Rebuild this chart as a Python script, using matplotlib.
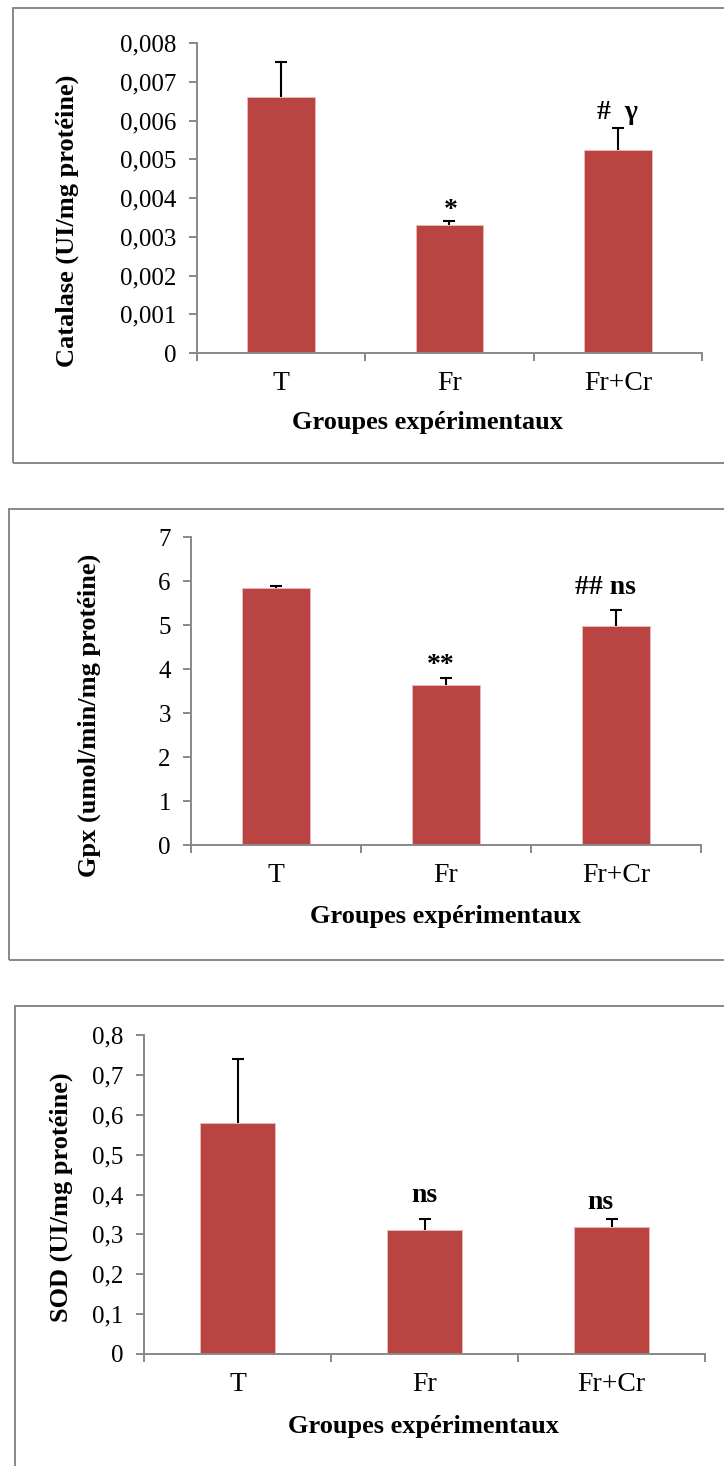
import matplotlib
matplotlib.use('Agg')
import numpy as np
import matplotlib.pyplot as plt
from matplotlib.patches import Rectangle

groups = ["T", "Fr", "Fr+Cr"]

cat_mean = [0.0066, 0.0033, 0.00525]
cat_err = [0.0009, 0.0001, 0.00055]
cat_marks = ["", "*", "#  \u03b3"]

gpx_mean = [5.83, 3.64, 4.98]
gpx_err = [0.05, 0.15, 0.37]
gpx_marks = ["", "**", "## ns"]

sod_mean = [0.58, 0.31, 0.318]
sod_err = [0.16, 0.029, 0.02]
sod_marks = ["", "ns", "ns"]

# where the significance marks sit (baseline, x shift in category units)
cat_mark_pos = [None, (0.0035, 0.01), (0.00605, 0.0)]
gpx_mark_pos = [None, (3.94, -0.03), (5.71, -0.06)]
sod_mark_pos = [None, (0.381, 0.0), (0.364, -0.06)]

W, H = 724, 1466
BAR = "#b94442"
GREY = "#888888"
plt.rcParams['font.family'] = ['Liberation Serif', 'DejaVu Serif']

fig = plt.figure(figsize=(W / 100, H / 100), dpi=100)


def px_box(x0, y0, x1, y1):
    return [x0 / W, 1 - y1 / H, (x1 - x0) / W, (y1 - y0) / H]


def frame(x0, y0, x1, y1):
    fig.patches.append(Rectangle((x0 / W, 1 - y1 / H), (x1 - x0) / W, (y1 - y0) / H,
                                 transform=fig.transFigure, fill=False,
                                 edgecolor=GREY, lw=1.4))


def panel(box, means, errs, marks, mark_pos, ymax, step, fmt, ylabel, ylab_xy, xlab_xy):
    ax = fig.add_axes(px_box(*box))
    x = np.arange(len(groups))
    ax.bar(x, means, width=0.4, color=BAR, edgecolor="#eab8b6", lw=0.7, zorder=2)
    _, caps, _ = ax.errorbar(x, means, yerr=[np.zeros(3), errs], fmt="none", ecolor="black",
                             elinewidth=1.5, capsize=4.5, capthick=1.5, zorder=3)
    caps[0].set_visible(False)  # only the upper cap, like the original
    for xi, m, pos in zip(x, marks, mark_pos):
        if m:
            ax.text(xi + pos[1], pos[0], m, ha="center", va="baseline", fontsize=20,
                    fontweight="bold")
    ax.set_xlim(-0.5, 2.5)
    ax.set_ylim(0, ymax)
    ticks = np.arange(0, ymax + step / 2, step)
    ax.set_yticks(ticks)
    ax.set_yticklabels([fmt(t) for t in ticks], fontsize=18)
    ax.set_xticks(x)
    ax.set_xticklabels(groups, fontsize=20)
    ax.set_xticks([-0.5, 0.5, 1.5, 2.5], minor=True)
    ax.tick_params(axis="x", which="major", length=0, pad=13)
    ax.tick_params(axis="x", which="minor", length=6, color=GREY, width=1.4, direction="out")
    ax.tick_params(axis="y", length=5.5, color=GREY, width=1.4, direction="out", pad=9)
    for s in ["top", "right"]:
        ax.spines[s].set_visible(False)
    for s in ["left", "bottom"]:
        ax.spines[s].set_color(GREY)
        ax.spines[s].set_linewidth(1.4)
    hgt = box[3] - box[1]
    ax.set_xlabel("Groupes expérimentaux", fontsize=19, fontweight="bold", va="center")
    ax.xaxis.set_label_coords((xlab_xy[0] - box[0]) / (box[2] - box[0]),
                              (box[3] - xlab_xy[1]) / hgt)
    ax.set_ylabel(ylabel, fontsize=19, fontweight="bold", va="center")
    ax.yaxis.set_label_coords((ylab_xy[0] - box[0]) / (box[2] - box[0]),
                              (box[3] - ylab_xy[1]) / hgt)
    return ax


frame(13, 8, 726, 463)
panel((197, 43, 702, 353), cat_mean, cat_err, cat_marks, cat_mark_pos, 0.008, 0.001,
      lambda t: "0" if t == 0 else f"{t:.3f}".replace(".", ","),
      "Catalase (UI/mg protéine)", (67, 221), (427, 423))

frame(9, 509, 726, 960)
panel((191, 537, 701, 845), gpx_mean, gpx_err, gpx_marks, gpx_mark_pos, 7, 1,
      lambda t: f"{t:.0f}", "Gpx (umol/min/mg protéine)", (89, 715), (445, 916))

frame(15, 1006, 740, 1480)
panel((144, 1035, 705, 1354), sod_mean, sod_err, sod_marks, sod_mark_pos, 0.8, 0.1,
      lambda t: "0" if t == 0 else f"{t:.1f}".replace(".", ","),
      "SOD (UI/mg protéine)", (61, 1197), (424, 1427))

fig.savefig("out.png", dpi=100)
